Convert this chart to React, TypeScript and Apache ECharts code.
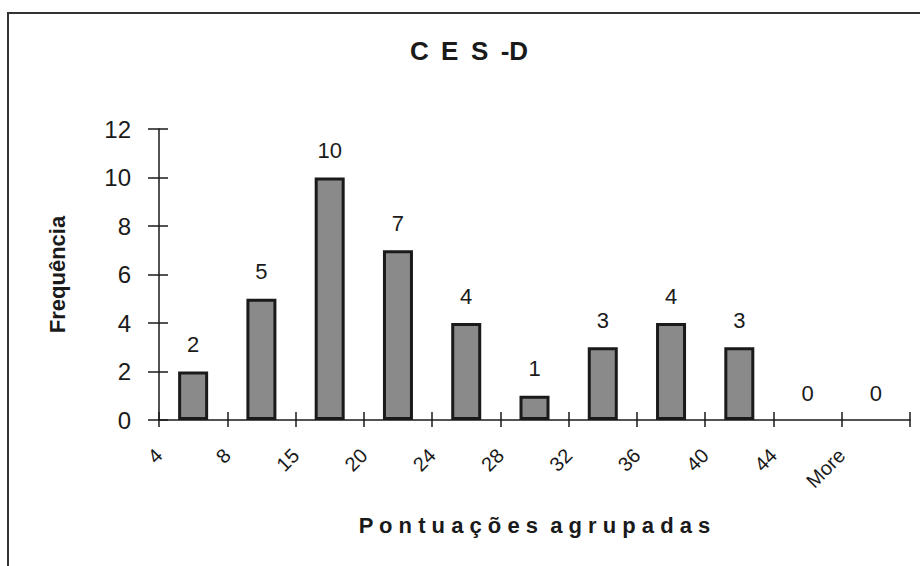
import React, { useEffect, useRef } from "react";
import * as echarts from "echarts";

const chartTitle = "C \u2009E \u2009S \u2009-D";
const xAxisTitle = "P o n t u a ç õ e s  a g r u p a d a s";
const yAxisTitle = "Frequência";
const binLabels = ["4", "8", "15", "20", "24", "28", "32", "36", "40", "44", "More"];
const frequencies = [2, 5, 10, 7, 4, 1, 3, 4, 3, 0, 0];
const yMin = 0;
const yMax = 12;
const yStep = 2;

const FONT = '"Liberation Sans", Arial, sans-serif';
const INK = "#1a1a1a";

export default function App() {
  const ref = useRef<HTMLDivElement>(null);

  useEffect(() => {
    if (!ref.current) return;
    const chart = echarts.init(ref.current, null, { renderer: "svg" });
    const tickAxisLabels = [...binLabels, ""];
    chart.setOption({
      animation: false,
      backgroundColor: "#ffffff",
      title: {
        text: chartTitle,
        left: 464,
        top: 33,
        textAlign: "center",
        textStyle: { fontFamily: FONT, fontSize: 26, fontWeight: "bold", color: INK },
      },
      graphic: [
        {
          type: "rect",
          shape: { x: 8, y: 13, width: 1000, height: 700 },
          style: { fill: "none", stroke: "#333", lineWidth: 2 },
          silent: true,
        },
      ],
      grid: {
        left: 159,
        right: 10,
        top: 129,
        bottom: 146,
        containLabel: false,
        outerBoundsMode: "none",
      },
      xAxis: [
        {
          type: "category",
          data: binLabels,
          boundaryGap: true,
          position: "bottom",
          axisLine: { show: true, lineStyle: { color: INK, width: 1.5 } },
          axisTick: { show: true, inside: false, length: 7, lineStyle: { color: INK, width: 1.5 } },
          axisLabel: { show: false },
          splitLine: { show: false },
          name: xAxisTitle,
          nameLocation: "middle",
          nameGap: 94,
          nameTextStyle: {
            fontFamily: FONT,
            fontSize: 22,
            fontWeight: "bold",
            color: INK,
            verticalAlign: "top",
          },
        },
        {
          type: "category",
          data: binLabels,
          boundaryGap: true,
          position: "bottom",
          axisLine: { show: false },
          axisTick: { show: true, inside: true, length: 8, lineStyle: { color: INK, width: 1.5 } },
          axisLabel: { show: false },
          splitLine: { show: false },
        },
        {
          type: "category",
          data: tickAxisLabels,
          boundaryGap: false,
          position: "bottom",
          axisLine: { show: false },
          axisTick: { show: false },
          splitLine: { show: false },
          axisLabel: {
            show: true,
            interval: 0,
            rotate: 45,
            margin: 32,
            fontFamily: FONT,
            fontSize: 20,
            color: INK,
          },
        },
      ],
      yAxis: [
        {
          type: "value",
          min: yMin,
          max: yMax,
          interval: yStep,
          axisLine: { show: true, lineStyle: { color: INK, width: 1.5 } },
          axisTick: { show: true, inside: false, length: 11, lineStyle: { color: INK, width: 1.5 } },
          axisLabel: { margin: 28, fontFamily: FONT, fontSize: 24, color: INK },
          splitLine: { show: false },
          name: yAxisTitle,
          nameLocation: "middle",
          nameGap: 91,
          nameTextStyle: { fontFamily: FONT, fontSize: 22, fontWeight: "bold", color: INK },
        },
        {
          type: "value",
          min: yMin,
          max: yMax,
          interval: yStep,
          position: "left",
          axisLine: { show: false },
          axisTick: { show: true, inside: true, length: 9, lineStyle: { color: INK, width: 1.5 } },
          axisLabel: { show: false },
          splitLine: { show: false },
        },
      ],
      series: [
        {
          type: "bar",
          xAxisIndex: 0,
          yAxisIndex: 0,
          barWidth: 30,
          data: frequencies.map((v) =>
            v === 0 ? { value: v, itemStyle: { borderWidth: 0 } } : v
          ),
          itemStyle: { color: "#8a8a8a", borderColor: INK, borderWidth: 3 },
          label: {
            show: true,
            position: "top",
            distance: 16,
            fontFamily: FONT,
            fontSize: 22,
            color: INK,
          },
        },
      ],
    });
    return () => chart.dispose();
  }, []);

  return (
    <div
      ref={ref}
      style={{ position: "fixed", left: 0, top: 0, width: 920, height: 566, background: "#fff" }}
    />
  );
}
